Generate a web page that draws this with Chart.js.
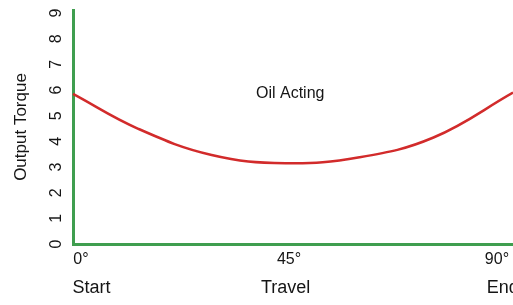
<!DOCTYPE html>
<html>
<head>
<meta charset="utf-8">
<script src="https://cdn.jsdelivr.net/npm/chart.js@4"></script>
<style>
  html, body { margin: 0; padding: 0; background: #ffffff; }
  #wrap { width: 513px; height: 305px; position: relative; }
</style>
</head>
<body>
<div id="wrap"><canvas id="c"></canvas></div>
<script>
// Data
const travelDeg = [0, 14, 30, 46, 62, 78, 95.2];
const torque = [5.85, 4.5, 3.47, 3.15, 3.38, 4.15, 5.9];
const degreeTicks = [0, 45, 90];
const degreeLabels = ['0°', '45°', '90°'];
const phaseTicks = [4, 46, 93];
const phaseLabels = ['Start', 'Travel', 'End'];
const yTicks = [0, 1, 2, 3, 4, 5, 6, 7, 8, 9];
const annotationText = 'Oil Acting';
const annotationPos = [47, 5.87];

const FONT = '"Liberation Sans", Arial, Helvetica, sans-serif';
const TEXT = '#151515';
const GREEN = '#3f9e4f';
const RED = '#d22b2b';

const annotate = {
  id: 'annotate',
  afterDatasetsDraw(chart) {
    const ctx = chart.ctx;
    const x = chart.scales.x.getPixelForValue(annotationPos[0]);
    const y = chart.scales.y.getPixelForValue(annotationPos[1]);
    ctx.save();
    ctx.font = '16px ' + FONT;
    ctx.fillStyle = TEXT;
    ctx.textAlign = 'center';
    ctx.textBaseline = 'middle';
    ctx.fillText(annotationText, x, y);
    ctx.restore();
  }
};

new Chart(document.getElementById('c'), {
  type: 'line',
  data: {
    datasets: [{
      data: travelDeg.map((d, i) => ({ x: d, y: torque[i] })),
      borderColor: RED,
      borderWidth: 2.5,
      pointRadius: 0,
      fill: false,
      tension: 0.4
    }]
  },
  options: {
    responsive: true,
    maintainAspectRatio: false,
    animation: false,
    clip: false,
    layout: { padding: { left: 5, right: 0, top: 10, bottom: 0 } },
    plugins: { legend: { display: false }, tooltip: { enabled: false } },
    scales: {
      x: {
        type: 'linear',
        position: 'bottom',
        min: 0,
        max: 95.2,
        afterBuildTicks(s) { s.ticks = degreeTicks.map(v => ({ value: v })); },
        afterFit(s) { s.height = 30; s.paddingLeft = 0; s.paddingRight = 0; },
        grid: { display: false, drawTicks: false },
        border: { display: true, color: GREEN, width: 3 },
        ticks: {
          padding: 6,
          labelOffset: 8,
          maxRotation: 0,
          minRotation: 0,
          autoSkip: false,
          font: { size: 16, family: FONT },
          color: TEXT,
          callback(v) { const i = degreeTicks.indexOf(v); return i >= 0 ? degreeLabels[i] : ''; }
        }
      },
      x2: {
        type: 'linear',
        position: 'bottom',
        min: 0,
        max: 95.2,
        afterBuildTicks(s) { s.ticks = phaseTicks.map(v => ({ value: v })); },
        afterFit(s) { s.height = 31; s.paddingLeft = 0; s.paddingRight = 0; },
        grid: { display: false, drawTicks: false },
        border: { display: false },
        ticks: {
          padding: 3,
          maxRotation: 0,
          minRotation: 0,
          autoSkip: false,
          font: { size: 18, family: FONT },
          color: TEXT,
          callback(v) { const i = phaseTicks.indexOf(v); return i >= 0 ? phaseLabels[i] : ''; }
        }
      },
      y: {
        type: 'linear',
        min: 0,
        max: 9.12,
        afterBuildTicks(s) { s.ticks = yTicks.map(v => ({ value: v })); },
        afterFit(s) { s.width = 68; s.paddingTop = 0; s.paddingBottom = 0; },
        grid: { display: false, drawTicks: false },
        border: { display: true, color: GREEN, width: 3 },
        ticks: {
          padding: 11.5,
          minRotation: 90,
          maxRotation: 90,
          crossAlign: 'center',
          font: { size: 16, family: FONT },
          color: TEXT,
          callback(v) { return String(v); }
        },
        title: {
          display: true,
          text: 'Output Torque',
          font: { size: 17, family: FONT },
          color: TEXT,
          padding: { top: 6, bottom: 0 }
        }
      }
    }
  },
  plugins: [annotate]
});
</script>
</body>
</html>
